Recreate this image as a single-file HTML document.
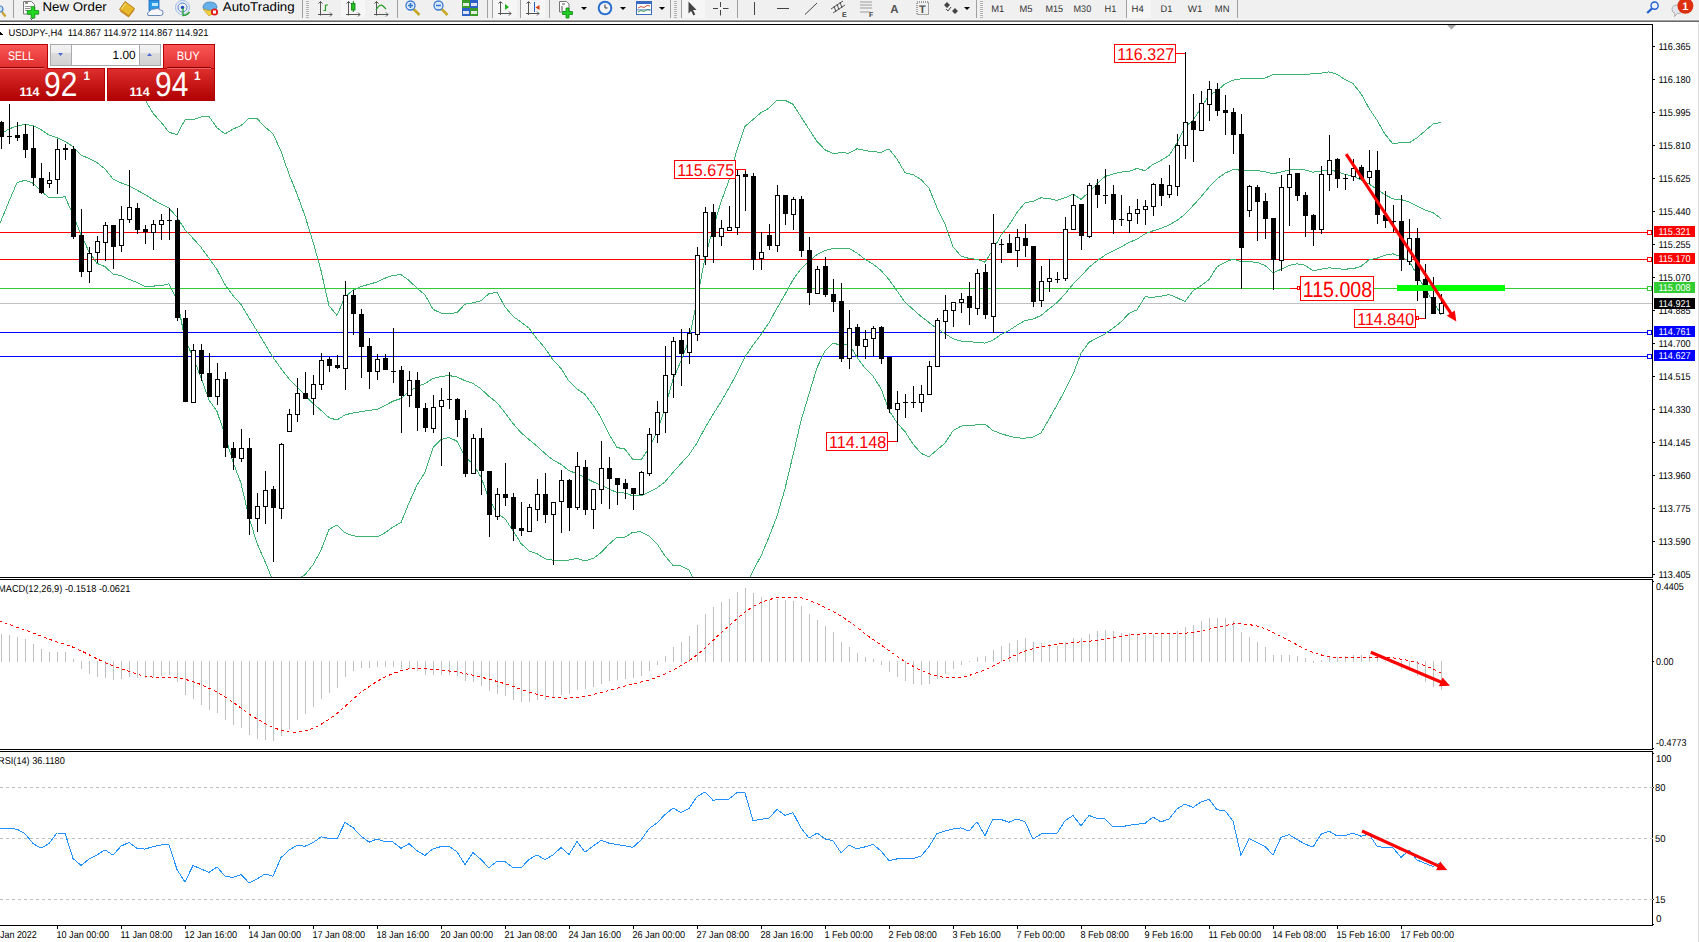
<!DOCTYPE html><html><head><meta charset="utf-8"><style>
*{margin:0;padding:0;box-sizing:border-box}body{width:1699px;height:942px;overflow:hidden;background:#fff;position:relative;font-family:"Liberation Sans",sans-serif}
text{font-family:"Liberation Sans",sans-serif;text-rendering:geometricPrecision}
</style></head><body>
<svg width="1699" height="942" style="position:absolute;left:0;top:0" shape-rendering="crispEdges">
<defs><clipPath id="cm"><rect x="0" y="25" width="1652" height="552"/></clipPath><clipPath id="cd"><rect x="0" y="580" width="1652" height="169"/></clipPath><clipPath id="cr"><rect x="0" y="752" width="1652" height="173"/></clipPath></defs>
<rect x="0" y="0" width="1699" height="19" fill="#f0f0f0"/><rect x="0" y="19" width="1699" height="1" fill="#f6f6f6"/>
<rect x="0" y="20" width="1699" height="1" fill="#a0a0a0"/><rect x="0" y="21" width="1699" height="1" fill="#696969"/>
<rect x="1698" y="22" width="1" height="920" fill="#dcdcdc"/>
<rect x="0" y="24" width="1653" height="1" fill="#000"/>
<rect x="1652" y="24" width="1" height="554" fill="#000"/>
<rect x="1652" y="579" width="1" height="171" fill="#000"/>
<rect x="1652" y="751" width="1" height="175" fill="#000"/>
<rect x="0" y="577" width="1653" height="1" fill="#000"/>
<rect x="0" y="579" width="1653" height="1" fill="#000"/>
<rect x="0" y="749" width="1653" height="1" fill="#000"/>
<rect x="0" y="751" width="1653" height="1" fill="#000"/>
<rect x="0" y="925" width="1653" height="1" fill="#000"/>
<rect x="1653" y="46" width="2" height="1" fill="#000"/>
<text x="1658.4" y="50" font-size="10" fill="#000" textLength="32.3" lengthAdjust="spacingAndGlyphs">116.365</text>
<rect x="1653" y="79" width="2" height="1" fill="#000"/>
<text x="1658.4" y="83" font-size="10" fill="#000" textLength="32.3" lengthAdjust="spacingAndGlyphs">116.180</text>
<rect x="1653" y="112" width="2" height="1" fill="#000"/>
<text x="1658.4" y="116" font-size="10" fill="#000" textLength="32.3" lengthAdjust="spacingAndGlyphs">115.995</text>
<rect x="1653" y="145" width="2" height="1" fill="#000"/>
<text x="1658.4" y="149" font-size="10" fill="#000" textLength="32.3" lengthAdjust="spacingAndGlyphs">115.810</text>
<rect x="1653" y="178" width="2" height="1" fill="#000"/>
<text x="1658.4" y="182" font-size="10" fill="#000" textLength="32.3" lengthAdjust="spacingAndGlyphs">115.625</text>
<rect x="1653" y="211" width="2" height="1" fill="#000"/>
<text x="1658.4" y="215" font-size="10" fill="#000" textLength="32.3" lengthAdjust="spacingAndGlyphs">115.440</text>
<rect x="1653" y="244" width="2" height="1" fill="#000"/>
<text x="1658.4" y="248" font-size="10" fill="#000" textLength="32.3" lengthAdjust="spacingAndGlyphs">115.255</text>
<rect x="1653" y="277" width="2" height="1" fill="#000"/>
<text x="1658.4" y="281" font-size="10" fill="#000" textLength="32.3" lengthAdjust="spacingAndGlyphs">115.070</text>
<rect x="1653" y="310" width="2" height="1" fill="#000"/>
<text x="1658.4" y="314" font-size="10" fill="#000" textLength="32.3" lengthAdjust="spacingAndGlyphs">114.885</text>
<rect x="1653" y="343" width="2" height="1" fill="#000"/>
<text x="1658.4" y="347" font-size="10" fill="#000" textLength="32.3" lengthAdjust="spacingAndGlyphs">114.700</text>
<rect x="1653" y="376" width="2" height="1" fill="#000"/>
<text x="1658.4" y="380" font-size="10" fill="#000" textLength="32.3" lengthAdjust="spacingAndGlyphs">114.515</text>
<rect x="1653" y="409" width="2" height="1" fill="#000"/>
<text x="1658.4" y="413" font-size="10" fill="#000" textLength="32.3" lengthAdjust="spacingAndGlyphs">114.330</text>
<rect x="1653" y="442" width="2" height="1" fill="#000"/>
<text x="1658.4" y="446" font-size="10" fill="#000" textLength="32.3" lengthAdjust="spacingAndGlyphs">114.145</text>
<rect x="1653" y="475" width="2" height="1" fill="#000"/>
<text x="1658.4" y="479" font-size="10" fill="#000" textLength="32.3" lengthAdjust="spacingAndGlyphs">113.960</text>
<rect x="1653" y="508" width="2" height="1" fill="#000"/>
<text x="1658.4" y="512" font-size="10" fill="#000" textLength="32.3" lengthAdjust="spacingAndGlyphs">113.775</text>
<rect x="1653" y="541" width="2" height="1" fill="#000"/>
<text x="1658.4" y="545" font-size="10" fill="#000" textLength="32.3" lengthAdjust="spacingAndGlyphs">113.590</text>
<rect x="1653" y="574" width="2" height="1" fill="#000"/>
<text x="1658.4" y="578" font-size="10" fill="#000" textLength="32.3" lengthAdjust="spacingAndGlyphs">113.405</text>
<rect x="1653" y="581" width="1" height="1" fill="#000"/><rect x="1653" y="661" width="1" height="1" fill="#000"/><rect x="1653" y="748" width="1" height="1" fill="#000"/>
<text x="1656.1" y="590" font-size="10" fill="#000" textLength="27.7" lengthAdjust="spacingAndGlyphs">0.4405</text>
<text x="1656.1" y="665" font-size="10" fill="#000" textLength="17.5" lengthAdjust="spacingAndGlyphs">0.00</text>
<text x="1656.1" y="746" font-size="10" fill="#000" textLength="30.4" lengthAdjust="spacingAndGlyphs">-0.4773</text>
<rect x="1653" y="753" width="1" height="1" fill="#000"/>
<rect x="1653" y="787" width="1" height="1" fill="#000"/>
<rect x="1653" y="899" width="1" height="1" fill="#000"/>
<rect x="1653" y="924" width="1" height="1" fill="#000"/>
<text x="1656" y="762" font-size="10" fill="#000" textLength="15.5" lengthAdjust="spacingAndGlyphs">100</text>
<text x="1655" y="791" font-size="10" fill="#000" textLength="10.5" lengthAdjust="spacingAndGlyphs">80</text>
<text x="1655" y="842" font-size="10" fill="#000" textLength="10.5" lengthAdjust="spacingAndGlyphs">50</text>
<text x="1655" y="903" font-size="10" fill="#000" textLength="10.5" lengthAdjust="spacingAndGlyphs">15</text>
<text x="1656" y="922" font-size="10" fill="#000" textLength="5.5" lengthAdjust="spacingAndGlyphs">0</text>
<rect x="57" y="926" width="1" height="3" fill="#000"/>
<text x="56.5" y="938" font-size="10" fill="#000" textLength="52.5" lengthAdjust="spacingAndGlyphs">10 Jan 00:00</text>
<rect x="121" y="926" width="1" height="3" fill="#000"/>
<text x="120.5" y="938" font-size="10" fill="#000" textLength="51.8" lengthAdjust="spacingAndGlyphs">11 Jan 08:00</text>
<rect x="185" y="926" width="1" height="3" fill="#000"/>
<text x="184.5" y="938" font-size="10" fill="#000" textLength="52.5" lengthAdjust="spacingAndGlyphs">12 Jan 16:00</text>
<rect x="249" y="926" width="1" height="3" fill="#000"/>
<text x="248.5" y="938" font-size="10" fill="#000" textLength="52.5" lengthAdjust="spacingAndGlyphs">14 Jan 00:00</text>
<rect x="313" y="926" width="1" height="3" fill="#000"/>
<text x="312.5" y="938" font-size="10" fill="#000" textLength="52.5" lengthAdjust="spacingAndGlyphs">17 Jan 08:00</text>
<rect x="377" y="926" width="1" height="3" fill="#000"/>
<text x="376.5" y="938" font-size="10" fill="#000" textLength="52.5" lengthAdjust="spacingAndGlyphs">18 Jan 16:00</text>
<rect x="441" y="926" width="1" height="3" fill="#000"/>
<text x="440.5" y="938" font-size="10" fill="#000" textLength="52.5" lengthAdjust="spacingAndGlyphs">20 Jan 00:00</text>
<rect x="505" y="926" width="1" height="3" fill="#000"/>
<text x="504.5" y="938" font-size="10" fill="#000" textLength="52.5" lengthAdjust="spacingAndGlyphs">21 Jan 08:00</text>
<rect x="569" y="926" width="1" height="3" fill="#000"/>
<text x="568.5" y="938" font-size="10" fill="#000" textLength="52.5" lengthAdjust="spacingAndGlyphs">24 Jan 16:00</text>
<rect x="633" y="926" width="1" height="3" fill="#000"/>
<text x="632.5" y="938" font-size="10" fill="#000" textLength="52.5" lengthAdjust="spacingAndGlyphs">26 Jan 00:00</text>
<rect x="697" y="926" width="1" height="3" fill="#000"/>
<text x="696.5" y="938" font-size="10" fill="#000" textLength="52.5" lengthAdjust="spacingAndGlyphs">27 Jan 08:00</text>
<rect x="761" y="926" width="1" height="3" fill="#000"/>
<text x="760.5" y="938" font-size="10" fill="#000" textLength="52.5" lengthAdjust="spacingAndGlyphs">28 Jan 16:00</text>
<rect x="825" y="926" width="1" height="3" fill="#000"/>
<text x="824.5" y="938" font-size="10" fill="#000" textLength="48.4" lengthAdjust="spacingAndGlyphs">1 Feb 00:00</text>
<rect x="889" y="926" width="1" height="3" fill="#000"/>
<text x="888.5" y="938" font-size="10" fill="#000" textLength="48.4" lengthAdjust="spacingAndGlyphs">2 Feb 08:00</text>
<rect x="953" y="926" width="1" height="3" fill="#000"/>
<text x="952.5" y="938" font-size="10" fill="#000" textLength="48.4" lengthAdjust="spacingAndGlyphs">3 Feb 16:00</text>
<rect x="1017" y="926" width="1" height="3" fill="#000"/>
<text x="1016.5" y="938" font-size="10" fill="#000" textLength="48.4" lengthAdjust="spacingAndGlyphs">7 Feb 00:00</text>
<rect x="1081" y="926" width="1" height="3" fill="#000"/>
<text x="1080.5" y="938" font-size="10" fill="#000" textLength="48.4" lengthAdjust="spacingAndGlyphs">8 Feb 08:00</text>
<rect x="1145" y="926" width="1" height="3" fill="#000"/>
<text x="1144.5" y="938" font-size="10" fill="#000" textLength="48.4" lengthAdjust="spacingAndGlyphs">9 Feb 16:00</text>
<rect x="1209" y="926" width="1" height="3" fill="#000"/>
<text x="1208.5" y="938" font-size="10" fill="#000" textLength="52.8" lengthAdjust="spacingAndGlyphs">11 Feb 00:00</text>
<rect x="1273" y="926" width="1" height="3" fill="#000"/>
<text x="1272.5" y="938" font-size="10" fill="#000" textLength="53.5" lengthAdjust="spacingAndGlyphs">14 Feb 08:00</text>
<rect x="1337" y="926" width="1" height="3" fill="#000"/>
<text x="1336.5" y="938" font-size="10" fill="#000" textLength="53.5" lengthAdjust="spacingAndGlyphs">15 Feb 16:00</text>
<rect x="1401" y="926" width="1" height="3" fill="#000"/>
<text x="1400.5" y="938" font-size="10" fill="#000" textLength="53.5" lengthAdjust="spacingAndGlyphs">17 Feb 00:00</text>
<text x="0" y="938" font-size="10" fill="#000" textLength="36.8" lengthAdjust="spacingAndGlyphs">Jan 2022</text>
<line x1="0" y1="787.5" x2="1653" y2="787.5" stroke="#c0c0c0" stroke-dasharray="3 3"/>
<line x1="0" y1="838.5" x2="1653" y2="838.5" stroke="#c0c0c0" stroke-dasharray="3 3"/>
<line x1="0" y1="899.5" x2="1653" y2="899.5" stroke="#c0c0c0" stroke-dasharray="3 3"/>
<g clip-path="url(#cd)">
<rect x="1" y="634" width="1" height="28" fill="#c0c0c0"/>
<rect x="9" y="635" width="1" height="27" fill="#c0c0c0"/>
<rect x="17" y="637" width="1" height="25" fill="#c0c0c0"/>
<rect x="25" y="639" width="1" height="23" fill="#c0c0c0"/>
<rect x="33" y="644" width="1" height="18" fill="#c0c0c0"/>
<rect x="41" y="649" width="1" height="13" fill="#c0c0c0"/>
<rect x="49" y="652" width="1" height="10" fill="#c0c0c0"/>
<rect x="57" y="652" width="1" height="10" fill="#c0c0c0"/>
<rect x="65" y="652" width="1" height="10" fill="#c0c0c0"/>
<rect x="73" y="659" width="1" height="3" fill="#c0c0c0"/>
<rect x="81" y="661" width="1" height="8" fill="#c0c0c0"/>
<rect x="89" y="661" width="1" height="13" fill="#c0c0c0"/>
<rect x="97" y="661" width="1" height="16" fill="#c0c0c0"/>
<rect x="105" y="661" width="1" height="17" fill="#c0c0c0"/>
<rect x="113" y="661" width="1" height="19" fill="#c0c0c0"/>
<rect x="121" y="661" width="1" height="18" fill="#c0c0c0"/>
<rect x="129" y="661" width="1" height="16" fill="#c0c0c0"/>
<rect x="137" y="661" width="1" height="17" fill="#c0c0c0"/>
<rect x="145" y="661" width="1" height="17" fill="#c0c0c0"/>
<rect x="153" y="661" width="1" height="16" fill="#c0c0c0"/>
<rect x="161" y="661" width="1" height="15" fill="#c0c0c0"/>
<rect x="169" y="661" width="1" height="14" fill="#c0c0c0"/>
<rect x="177" y="661" width="1" height="21" fill="#c0c0c0"/>
<rect x="185" y="661" width="1" height="34" fill="#c0c0c0"/>
<rect x="193" y="661" width="1" height="38" fill="#c0c0c0"/>
<rect x="201" y="661" width="1" height="44" fill="#c0c0c0"/>
<rect x="209" y="661" width="1" height="49" fill="#c0c0c0"/>
<rect x="217" y="661" width="1" height="52" fill="#c0c0c0"/>
<rect x="225" y="661" width="1" height="59" fill="#c0c0c0"/>
<rect x="233" y="661" width="1" height="64" fill="#c0c0c0"/>
<rect x="241" y="661" width="1" height="67" fill="#c0c0c0"/>
<rect x="249" y="661" width="1" height="74" fill="#c0c0c0"/>
<rect x="257" y="661" width="1" height="78" fill="#c0c0c0"/>
<rect x="265" y="661" width="1" height="79" fill="#c0c0c0"/>
<rect x="273" y="661" width="1" height="80" fill="#c0c0c0"/>
<rect x="281" y="661" width="1" height="75" fill="#c0c0c0"/>
<rect x="289" y="661" width="1" height="68" fill="#c0c0c0"/>
<rect x="297" y="661" width="1" height="59" fill="#c0c0c0"/>
<rect x="305" y="661" width="1" height="53" fill="#c0c0c0"/>
<rect x="313" y="661" width="1" height="46" fill="#c0c0c0"/>
<rect x="321" y="661" width="1" height="38" fill="#c0c0c0"/>
<rect x="329" y="661" width="1" height="32" fill="#c0c0c0"/>
<rect x="337" y="661" width="1" height="27" fill="#c0c0c0"/>
<rect x="345" y="661" width="1" height="16" fill="#c0c0c0"/>
<rect x="353" y="661" width="1" height="10" fill="#c0c0c0"/>
<rect x="361" y="661" width="1" height="7" fill="#c0c0c0"/>
<rect x="369" y="661" width="1" height="7" fill="#c0c0c0"/>
<rect x="377" y="661" width="1" height="6" fill="#c0c0c0"/>
<rect x="385" y="661" width="1" height="6" fill="#c0c0c0"/>
<rect x="393" y="661" width="1" height="6" fill="#c0c0c0"/>
<rect x="401" y="661" width="1" height="8" fill="#c0c0c0"/>
<rect x="409" y="661" width="1" height="8" fill="#c0c0c0"/>
<rect x="417" y="661" width="1" height="10" fill="#c0c0c0"/>
<rect x="425" y="661" width="1" height="14" fill="#c0c0c0"/>
<rect x="433" y="661" width="1" height="14" fill="#c0c0c0"/>
<rect x="441" y="661" width="1" height="14" fill="#c0c0c0"/>
<rect x="449" y="661" width="1" height="14" fill="#c0c0c0"/>
<rect x="457" y="661" width="1" height="15" fill="#c0c0c0"/>
<rect x="465" y="661" width="1" height="20" fill="#c0c0c0"/>
<rect x="473" y="661" width="1" height="21" fill="#c0c0c0"/>
<rect x="481" y="661" width="1" height="25" fill="#c0c0c0"/>
<rect x="489" y="661" width="1" height="30" fill="#c0c0c0"/>
<rect x="497" y="661" width="1" height="33" fill="#c0c0c0"/>
<rect x="505" y="661" width="1" height="35" fill="#c0c0c0"/>
<rect x="513" y="661" width="1" height="39" fill="#c0c0c0"/>
<rect x="521" y="661" width="1" height="41" fill="#c0c0c0"/>
<rect x="529" y="661" width="1" height="41" fill="#c0c0c0"/>
<rect x="537" y="661" width="1" height="39" fill="#c0c0c0"/>
<rect x="545" y="661" width="1" height="39" fill="#c0c0c0"/>
<rect x="553" y="661" width="1" height="37" fill="#c0c0c0"/>
<rect x="561" y="661" width="1" height="34" fill="#c0c0c0"/>
<rect x="569" y="661" width="1" height="33" fill="#c0c0c0"/>
<rect x="577" y="661" width="1" height="29" fill="#c0c0c0"/>
<rect x="585" y="661" width="1" height="28" fill="#c0c0c0"/>
<rect x="593" y="661" width="1" height="26" fill="#c0c0c0"/>
<rect x="601" y="661" width="1" height="23" fill="#c0c0c0"/>
<rect x="609" y="661" width="1" height="20" fill="#c0c0c0"/>
<rect x="617" y="661" width="1" height="19" fill="#c0c0c0"/>
<rect x="625" y="661" width="1" height="18" fill="#c0c0c0"/>
<rect x="633" y="661" width="1" height="17" fill="#c0c0c0"/>
<rect x="641" y="661" width="1" height="15" fill="#c0c0c0"/>
<rect x="649" y="661" width="1" height="10" fill="#c0c0c0"/>
<rect x="657" y="661" width="1" height="4" fill="#c0c0c0"/>
<rect x="665" y="656" width="1" height="6" fill="#c0c0c0"/>
<rect x="673" y="647" width="1" height="15" fill="#c0c0c0"/>
<rect x="681" y="642" width="1" height="20" fill="#c0c0c0"/>
<rect x="689" y="636" width="1" height="26" fill="#c0c0c0"/>
<rect x="697" y="625" width="1" height="37" fill="#c0c0c0"/>
<rect x="705" y="614" width="1" height="48" fill="#c0c0c0"/>
<rect x="713" y="607" width="1" height="55" fill="#c0c0c0"/>
<rect x="721" y="602" width="1" height="60" fill="#c0c0c0"/>
<rect x="729" y="599" width="1" height="63" fill="#c0c0c0"/>
<rect x="737" y="592" width="1" height="70" fill="#c0c0c0"/>
<rect x="745" y="588" width="1" height="74" fill="#c0c0c0"/>
<rect x="753" y="593" width="1" height="69" fill="#c0c0c0"/>
<rect x="761" y="597" width="1" height="65" fill="#c0c0c0"/>
<rect x="769" y="600" width="1" height="62" fill="#c0c0c0"/>
<rect x="777" y="599" width="1" height="63" fill="#c0c0c0"/>
<rect x="785" y="600" width="1" height="62" fill="#c0c0c0"/>
<rect x="793" y="601" width="1" height="61" fill="#c0c0c0"/>
<rect x="801" y="606" width="1" height="56" fill="#c0c0c0"/>
<rect x="809" y="614" width="1" height="48" fill="#c0c0c0"/>
<rect x="817" y="620" width="1" height="42" fill="#c0c0c0"/>
<rect x="825" y="626" width="1" height="36" fill="#c0c0c0"/>
<rect x="833" y="632" width="1" height="30" fill="#c0c0c0"/>
<rect x="841" y="642" width="1" height="20" fill="#c0c0c0"/>
<rect x="849" y="647" width="1" height="15" fill="#c0c0c0"/>
<rect x="857" y="653" width="1" height="9" fill="#c0c0c0"/>
<rect x="865" y="657" width="1" height="5" fill="#c0c0c0"/>
<rect x="873" y="659" width="1" height="3" fill="#c0c0c0"/>
<rect x="881" y="661" width="1" height="4" fill="#c0c0c0"/>
<rect x="889" y="661" width="1" height="11" fill="#c0c0c0"/>
<rect x="897" y="661" width="1" height="16" fill="#c0c0c0"/>
<rect x="905" y="661" width="1" height="20" fill="#c0c0c0"/>
<rect x="913" y="661" width="1" height="23" fill="#c0c0c0"/>
<rect x="921" y="661" width="1" height="24" fill="#c0c0c0"/>
<rect x="929" y="661" width="1" height="23" fill="#c0c0c0"/>
<rect x="937" y="661" width="1" height="18" fill="#c0c0c0"/>
<rect x="945" y="661" width="1" height="13" fill="#c0c0c0"/>
<rect x="953" y="661" width="1" height="8" fill="#c0c0c0"/>
<rect x="961" y="661" width="1" height="4" fill="#c0c0c0"/>
<rect x="969" y="661" width="1" height="1" fill="#c0c0c0"/>
<rect x="977" y="657" width="1" height="5" fill="#c0c0c0"/>
<rect x="985" y="656" width="1" height="6" fill="#c0c0c0"/>
<rect x="993" y="650" width="1" height="12" fill="#c0c0c0"/>
<rect x="1001" y="646" width="1" height="16" fill="#c0c0c0"/>
<rect x="1009" y="643" width="1" height="19" fill="#c0c0c0"/>
<rect x="1017" y="640" width="1" height="22" fill="#c0c0c0"/>
<rect x="1025" y="638" width="1" height="24" fill="#c0c0c0"/>
<rect x="1033" y="642" width="1" height="20" fill="#c0c0c0"/>
<rect x="1041" y="643" width="1" height="19" fill="#c0c0c0"/>
<rect x="1049" y="644" width="1" height="18" fill="#c0c0c0"/>
<rect x="1057" y="646" width="1" height="16" fill="#c0c0c0"/>
<rect x="1065" y="642" width="1" height="20" fill="#c0c0c0"/>
<rect x="1073" y="638" width="1" height="24" fill="#c0c0c0"/>
<rect x="1081" y="638" width="1" height="24" fill="#c0c0c0"/>
<rect x="1089" y="634" width="1" height="28" fill="#c0c0c0"/>
<rect x="1097" y="631" width="1" height="31" fill="#c0c0c0"/>
<rect x="1105" y="630" width="1" height="32" fill="#c0c0c0"/>
<rect x="1113" y="631" width="1" height="31" fill="#c0c0c0"/>
<rect x="1121" y="633" width="1" height="29" fill="#c0c0c0"/>
<rect x="1129" y="633" width="1" height="29" fill="#c0c0c0"/>
<rect x="1137" y="634" width="1" height="28" fill="#c0c0c0"/>
<rect x="1145" y="635" width="1" height="27" fill="#c0c0c0"/>
<rect x="1153" y="634" width="1" height="28" fill="#c0c0c0"/>
<rect x="1161" y="634" width="1" height="28" fill="#c0c0c0"/>
<rect x="1169" y="634" width="1" height="28" fill="#c0c0c0"/>
<rect x="1177" y="631" width="1" height="31" fill="#c0c0c0"/>
<rect x="1185" y="627" width="1" height="35" fill="#c0c0c0"/>
<rect x="1193" y="625" width="1" height="37" fill="#c0c0c0"/>
<rect x="1201" y="621" width="1" height="41" fill="#c0c0c0"/>
<rect x="1209" y="618" width="1" height="44" fill="#c0c0c0"/>
<rect x="1217" y="618" width="1" height="44" fill="#c0c0c0"/>
<rect x="1225" y="618" width="1" height="44" fill="#c0c0c0"/>
<rect x="1233" y="621" width="1" height="41" fill="#c0c0c0"/>
<rect x="1241" y="632" width="1" height="30" fill="#c0c0c0"/>
<rect x="1249" y="637" width="1" height="25" fill="#c0c0c0"/>
<rect x="1257" y="642" width="1" height="20" fill="#c0c0c0"/>
<rect x="1265" y="647" width="1" height="15" fill="#c0c0c0"/>
<rect x="1273" y="655" width="1" height="7" fill="#c0c0c0"/>
<rect x="1281" y="655" width="1" height="7" fill="#c0c0c0"/>
<rect x="1289" y="655" width="1" height="7" fill="#c0c0c0"/>
<rect x="1297" y="656" width="1" height="6" fill="#c0c0c0"/>
<rect x="1305" y="658" width="1" height="4" fill="#c0c0c0"/>
<rect x="1313" y="661" width="1" height="2" fill="#c0c0c0"/>
<rect x="1321" y="660" width="1" height="2" fill="#c0c0c0"/>
<rect x="1329" y="657" width="1" height="5" fill="#c0c0c0"/>
<rect x="1337" y="657" width="1" height="5" fill="#c0c0c0"/>
<rect x="1345" y="656" width="1" height="6" fill="#c0c0c0"/>
<rect x="1353" y="655" width="1" height="7" fill="#c0c0c0"/>
<rect x="1361" y="655" width="1" height="7" fill="#c0c0c0"/>
<rect x="1369" y="655" width="1" height="7" fill="#c0c0c0"/>
<rect x="1377" y="658" width="1" height="4" fill="#c0c0c0"/>
<rect x="1385" y="661" width="1" height="1" fill="#c0c0c0"/>
<rect x="1393" y="661" width="1" height="3" fill="#c0c0c0"/>
<rect x="1401" y="661" width="1" height="8" fill="#c0c0c0"/>
<rect x="1409" y="661" width="1" height="10" fill="#c0c0c0"/>
<rect x="1417" y="661" width="1" height="15" fill="#c0c0c0"/>
<rect x="1425" y="661" width="1" height="21" fill="#c0c0c0"/>
<rect x="1433" y="661" width="1" height="26" fill="#c0c0c0"/>
<rect x="1441" y="661" width="1" height="29" fill="#c0c0c0"/>
<polyline points="-7,619.3 1,621.5 9,624.4 17,627.3 25,630.0 33,632.9 41,636.0 49,639.1 57,641.9 65,644.3 73,647.2 81,650.8 89,654.8 97,658.8 105,662.5 113,665.8 121,668.7 129,671.4 137,674.2 145,676.1 153,677.1 161,677.3 169,677.2 177,677.7 185,679.3 193,681.6 201,684.6 209,688.2 217,692.1 225,696.8 233,702.2 241,708.1 249,714.0 257,718.9 265,723.4 273,727.4 281,730.3 289,732.0 297,732.1 305,730.8 313,728.5 321,724.4 329,719.2 337,713.4 345,706.3 353,699.1 361,692.4 369,686.6 377,681.4 385,677.0 393,673.5 401,670.8 409,668.8 417,668.1 425,668.5 433,669.3 441,670.1 449,671.0 457,672.0 465,673.7 473,675.2 481,677.0 489,679.3 497,681.4 505,683.7 513,686.4 521,689.4 529,692.2 537,694.3 545,696.2 553,697.6 561,698.0 569,698.0 577,697.3 585,696.2 593,694.5 601,692.5 609,690.4 617,688.2 625,686.0 633,684.1 641,682.1 649,680.0 657,677.2 665,673.9 673,669.9 681,665.6 689,660.8 697,655.0 705,647.9 713,640.4 721,632.9 729,625.7 737,618.7 745,612.1 753,606.7 761,602.4 769,599.5 777,597.9 785,597.1 793,597.0 801,597.8 809,600.3 817,603.7 825,607.4 833,611.3 841,616.0 849,621.4 857,627.3 865,633.6 873,639.5 881,645.0 889,650.7 897,656.3 905,661.7 913,666.3 921,670.4 929,673.7 937,676.0 945,677.5 953,678.0 961,677.2 969,675.5 977,672.8 985,669.9 993,666.1 1001,661.9 1009,658.1 1017,654.4 1025,651.1 1033,648.7 1041,646.7 1049,645.3 1057,644.1 1065,643.3 1073,642.4 1081,641.9 1089,641.2 1097,640.4 1105,639.1 1113,637.7 1121,636.4 1129,635.1 1137,634.2 1145,633.8 1153,633.3 1161,633.3 1169,633.6 1177,633.7 1185,633.2 1193,632.3 1201,631.0 1209,629.2 1217,627.2 1225,625.5 1233,624.0 1241,623.8 1249,624.5 1257,626.1 1265,628.6 1273,632.4 1281,636.5 1289,640.6 1297,644.8 1305,649.0 1313,652.3 1321,654.9 1329,656.6 1337,657.6 1345,657.8 1353,657.7 1361,657.8 1369,657.6 1377,657.6 1385,657.5 1393,657.8 1401,659.1 1409,660.6 1417,662.8 1425,665.6 1433,669.0 1441,672.8" fill="none" stroke="#f00" stroke-width="1" stroke-dasharray="3 3"/>
</g>
<g clip-path="url(#cr)">
<polyline points="-7,828.8 1,828.8 9,828.7 17,829.1 25,833.8 33,843.5 41,848.2 49,843.6 57,833.0 65,833.2 73,858.5 81,865.4 89,859.2 97,855.1 105,849.8 113,855.1 121,846.2 129,842.4 137,848.5 145,849.1 153,846.6 161,845.0 169,844.9 177,869.6 185,882.0 193,865.4 201,869.0 209,872.3 217,866.9 225,876.3 233,877.5 241,874.5 249,882.8 257,879.0 265,873.9 273,876.2 281,857.6 289,850.2 297,845.2 305,846.2 313,842.7 321,836.9 329,838.3 337,838.9 345,822.3 353,827.6 361,836.1 369,842.2 377,839.0 385,841.6 393,842.0 401,848.3 409,843.7 417,850.7 425,855.4 433,848.8 441,846.6 449,846.3 457,851.9 465,864.6 473,852.6 481,859.6 489,867.8 497,861.1 505,861.7 513,867.6 521,868.0 529,859.4 537,854.9 545,859.6 553,855.0 561,847.5 569,854.6 577,841.5 585,852.1 593,846.2 601,840.4 609,843.2 617,844.6 625,845.8 633,847.3 641,839.9 649,828.7 657,822.9 665,814.6 673,808.1 681,812.5 689,808.6 697,796.7 705,791.8 713,800.3 721,799.3 729,799.1 737,792.5 745,793.0 753,820.6 761,819.3 769,818.0 777,809.5 785,815.4 793,812.8 801,827.9 809,838.1 817,833.0 825,838.9 833,840.7 841,852.7 849,845.2 857,848.7 865,846.9 873,844.2 881,851.0 889,860.7 897,858.9 905,858.7 913,858.7 921,856.1 929,846.6 937,833.5 945,831.0 953,828.9 961,827.9 969,831.1 977,821.8 985,835.6 993,819.0 1001,819.5 1009,822.2 1017,818.9 1025,821.8 1033,839.2 1041,834.0 1049,833.3 1057,833.4 1065,820.7 1073,815.5 1081,825.8 1089,815.4 1097,818.5 1105,818.7 1113,826.9 1121,826.9 1129,825.3 1137,824.2 1145,823.3 1153,817.0 1161,821.9 1169,819.1 1177,808.9 1185,804.0 1193,807.5 1201,802.0 1209,799.3 1217,809.7 1225,810.7 1233,821.0 1241,855.4 1249,838.7 1257,842.5 1265,846.4 1273,855.0 1281,837.4 1289,834.6 1297,839.6 1305,844.0 1313,847.1 1321,834.2 1329,831.1 1337,835.9 1345,835.6 1353,833.2 1361,836.2 1369,834.1 1377,846.2 1385,847.7 1393,847.7 1401,857.4 1409,850.3 1417,859.9 1425,863.3 1433,866.5 1441,862.7" fill="none" stroke="#1e90ff" stroke-width="1"/>
</g>
<g clip-path="url(#cm)">
<rect x="0" y="303" width="1653" height="1" fill="#c0c0c0"/>
<rect x="0" y="232" width="1652" height="1" fill="#f00"/>
<rect x="1647.5" y="230.5" width="4" height="4" fill="#fff" stroke="#f00" stroke-width="1"/>
<rect x="0" y="259" width="1652" height="1" fill="#f00"/>
<rect x="1647.5" y="257.5" width="4" height="4" fill="#fff" stroke="#f00" stroke-width="1"/>
<rect x="0" y="288" width="1652" height="1" fill="#32cd32"/>
<rect x="1647.5" y="286.5" width="4" height="4" fill="#fff" stroke="#32cd32" stroke-width="1"/>
<rect x="0" y="332" width="1652" height="1" fill="#00f"/>
<rect x="1647.5" y="330.5" width="4" height="4" fill="#fff" stroke="#00f" stroke-width="1"/>
<rect x="0" y="356" width="1652" height="1" fill="#00f"/>
<rect x="1647.5" y="354.5" width="4" height="4" fill="#fff" stroke="#00f" stroke-width="1"/>
<polyline points="1,46.8 9,56.6 17,69.0 25,68.6 33,67.8 41,68.2 49,72.4 57,77.6 65,86.2 73,78.8 81,75.7 89,65.1 97,61.8 105,71.4 113,83.8 121,89.9 129,92.5 137,95.0 145,99.6 153,113.3 161,122.1 169,132.3 177,134.6 185,119.9 193,119.6 201,116.9 209,116.4 217,127.8 225,134.0 233,129.1 241,125.7 249,118.0 257,118.6 265,126.9 273,133.7 281,151.3 289,174.1 297,194.0 305,216.0 313,241.8 321,270.5 329,305.9 337,315.4 345,296.9 353,290.2 361,286.6 369,284.3 377,282.0 385,278.2 393,275.4 401,274.6 409,280.4 417,288.2 425,294.9 433,309.3 441,313.1 449,313.8 457,312.6 465,304.2 473,302.9 481,300.8 489,293.5 497,292.4 505,306.8 513,316.3 521,322.1 529,328.0 537,338.7 545,348.2 553,359.9 561,368.4 569,381.3 577,388.9 585,394.4 593,405.0 601,417.6 609,434.0 617,447.5 625,449.1 633,459.7 641,460.0 649,448.1 657,431.9 665,407.6 673,379.4 681,361.0 689,339.8 697,300.3 705,257.4 713,228.6 721,201.9 729,180.3 737,149.6 745,126.4 753,119.6 761,112.7 769,108.2 777,100.3 785,100.2 793,104.3 801,116.8 809,129.3 817,141.4 825,149.8 833,153.6 841,152.6 849,153.2 857,148.8 865,150.5 873,151.7 881,152.3 889,148.9 897,159.0 905,172.8 913,174.6 921,179.5 929,188.1 937,207.7 945,224.1 953,246.7 961,256.2 969,258.4 977,259.3 985,262.2 993,249.7 1001,235.3 1009,225.2 1017,212.5 1025,202.9 1033,201.3 1041,197.8 1049,198.5 1057,200.4 1065,197.8 1073,194.0 1081,199.3 1089,192.2 1097,183.7 1105,176.5 1113,174.0 1121,172.1 1129,171.5 1137,168.4 1145,170.7 1153,164.4 1161,160.4 1169,155.5 1177,143.1 1185,126.9 1193,120.5 1201,107.9 1209,95.1 1217,91.0 1225,83.8 1233,80.1 1241,78.8 1249,78.8 1257,78.7 1265,78.1 1273,74.5 1281,74.9 1289,74.7 1297,75.0 1305,74.7 1313,73.6 1321,73.1 1329,71.9 1337,74.2 1345,79.6 1353,83.6 1361,93.7 1369,108.2 1377,120.3 1385,134.1 1393,144.1 1401,142.4 1409,143.0 1417,137.8 1425,131.0 1433,124.1 1441,122.4" fill="none" stroke="#3cb371" stroke-width="1"/>
<polyline points="-7,136 1,133.8 9,129.0 17,125.9 25,124.4 33,125.5 41,129.7 49,135.0 57,137.8 65,141.4 73,146.7 81,155.2 89,158.4 97,162.6 105,169.0 113,178.9 121,182.8 129,185.9 137,190.2 145,194.4 153,199.7 161,203.9 169,208.1 177,217.1 185,229.7 193,238.3 201,247.3 209,258.1 217,269.6 225,284.6 233,295.6 241,304.5 249,317.7 257,331.0 265,344.2 273,357.3 281,368.5 289,378.9 297,387.0 305,395.4 313,403.4 321,410.3 329,417.6 337,420.1 345,414.8 353,413.0 361,411.7 369,410.4 377,409.4 385,405.5 393,401.2 401,398.5 409,391.6 417,386.7 425,383.6 433,378.5 441,376.4 449,375.6 457,376.9 465,380.7 473,383.4 481,388.9 489,396.3 497,402.7 505,412.8 513,423.5 521,432.7 529,439.5 537,446.2 545,453.5 553,460.0 561,464.3 569,470.7 577,473.6 585,477.7 593,481.8 601,485.2 609,489.1 617,492.4 625,493.1 633,495.9 641,496.0 649,492.0 657,487.9 665,481.8 673,472.4 681,463.5 689,454.8 697,442.9 705,427.8 713,414.5 721,401.9 729,387.9 737,373.3 745,356.7 753,345.2 761,334.4 769,322.7 777,308.2 785,294.5 793,279.8 801,268.7 809,261.6 817,254.5 825,250.4 833,248.5 841,248.8 849,248.5 857,253.0 865,259.4 873,264.0 881,270.5 889,279.5 897,290.9 905,302.2 913,309.3 921,316.4 929,322.5 937,328.8 945,333.6 953,338.8 961,341.1 969,341.9 977,342.1 985,343.1 993,340.2 1001,334.4 1009,330.6 1017,325.2 1025,320.6 1033,319.2 1041,315.4 1049,308.9 1057,302.7 1065,294.0 1073,284.2 1081,276.3 1089,267.2 1097,260.9 1105,255.2 1113,251.0 1121,247.1 1129,242.4 1137,239.2 1145,233.8 1153,230.8 1161,228.4 1169,225.0 1177,220.4 1185,214.3 1193,205.7 1201,196.8 1209,187.3 1217,178.9 1225,173.1 1233,169.6 1241,170.2 1249,170.2 1257,170.5 1265,171.7 1273,173.7 1281,172.1 1289,170.1 1297,169.4 1305,169.9 1313,172.2 1321,171.1 1329,169.9 1337,171.5 1345,174.3 1353,176.2 1361,180.0 1369,184.0 1377,189.2 1385,194.6 1393,198.9 1401,199.5 1409,202.1 1417,206.1 1425,210.0 1433,212.7 1441,218.5" fill="none" stroke="#3cb371" stroke-width="1"/>
<polyline points="-7,236 1,220.8 9,201.4 17,182.8 25,180.2 33,183.2 41,191.2 49,197.6 57,198.0 65,196.6 73,214.6 81,234.7 89,251.7 97,263.4 105,266.6 113,274.0 121,275.7 129,279.3 137,282.5 145,286.3 153,286.1 161,285.6 169,283.8 177,299.5 185,339.5 193,357.0 201,377.7 209,399.9 217,411.5 225,435.1 233,462.1 241,483.2 249,517.4 257,543.3 265,561.5 273,580.8 281,585.7 289,583.7 297,580.1 305,574.7 313,564.9 321,550.2 329,529.4 337,524.8 345,532.7 353,535.8 361,536.8 369,536.6 377,536.9 385,532.8 393,527.0 401,522.5 409,502.9 417,485.2 425,472.2 433,447.7 441,439.6 449,437.4 457,441.2 465,457.1 473,463.8 481,477.0 489,499.2 497,513.0 505,518.8 513,530.7 521,543.4 529,551.0 537,553.7 545,558.8 553,560.2 561,560.2 569,560.1 577,558.2 585,560.9 593,558.5 601,552.7 609,544.2 617,537.3 625,537.2 633,532.1 641,531.9 649,535.8 657,543.8 665,555.9 673,565.4 681,566.0 689,569.9 697,585.4 705,598.2 713,600.4 721,601.9 729,595.4 737,597.1 745,586.9 753,570.7 761,556.0 769,537.1 777,516.1 785,488.8 793,455.3 801,420.7 809,394.0 817,367.6 825,351.1 833,343.3 841,344.9 849,343.8 857,357.3 865,368.2 873,376.2 881,388.6 889,410.2 897,422.9 905,431.6 913,444.0 921,453.3 929,456.9 937,449.9 945,443.1 953,430.8 961,426.1 969,425.4 977,424.9 985,424.0 993,430.6 1001,433.6 1009,436.1 1017,437.9 1025,438.2 1033,437.1 1041,432.9 1049,419.2 1057,404.9 1065,390.3 1073,374.4 1081,353.2 1089,342.3 1097,338.1 1105,333.9 1113,328.1 1121,322.0 1129,313.3 1137,309.9 1145,296.8 1153,297.3 1161,296.3 1169,294.5 1177,297.8 1185,301.6 1193,290.9 1201,285.6 1209,279.6 1217,266.8 1225,262.4 1233,259.0 1241,261.6 1249,261.6 1257,262.4 1265,265.4 1273,272.9 1281,269.3 1289,265.5 1297,263.8 1305,265.1 1313,270.8 1321,269.2 1329,267.8 1337,268.9 1345,269.1 1353,268.8 1361,266.3 1369,259.9 1377,258.2 1385,255.2 1393,253.8 1401,256.6 1409,261.3 1417,274.4 1425,289.0 1433,301.3 1441,314.6" fill="none" stroke="#3cb371" stroke-width="1"/>
<rect x="1" y="121" width="1" height="28" fill="#000"/>
<rect x="-1" y="122" width="5" height="15" fill="#000"/>
<rect x="9" y="104" width="1" height="40" fill="#000"/>
<rect x="7" y="136" width="5" height="1" fill="#000"/>
<rect x="17" y="122" width="1" height="19" fill="#000"/>
<rect x="15" y="135" width="5" height="3" fill="#000"/>
<rect x="25" y="124" width="1" height="34" fill="#000"/>
<rect x="23" y="134" width="5" height="16" fill="#000"/>
<rect x="33" y="126" width="1" height="60" fill="#000"/>
<rect x="31" y="148" width="5" height="30" fill="#000"/>
<rect x="41" y="163" width="1" height="31" fill="#000"/>
<rect x="39" y="178" width="5" height="15" fill="#000"/>
<rect x="49" y="172" width="1" height="16" fill="#000"/>
<rect x="47.5" y="180.5" width="4" height="3" fill="#fff" stroke="#000"/>
<rect x="57" y="139" width="1" height="55" fill="#000"/>
<rect x="55.5" y="149.5" width="4" height="30" fill="#fff" stroke="#000"/>
<rect x="65" y="144" width="1" height="16" fill="#000"/>
<rect x="63" y="148" width="5" height="2" fill="#000"/>
<rect x="73" y="146" width="1" height="93" fill="#000"/>
<rect x="71" y="149" width="5" height="88" fill="#000"/>
<rect x="81" y="209" width="1" height="68" fill="#000"/>
<rect x="79" y="235" width="5" height="37" fill="#000"/>
<rect x="89" y="247" width="1" height="36" fill="#000"/>
<rect x="87.5" y="253.5" width="4" height="18" fill="#fff" stroke="#000"/>
<rect x="97" y="236" width="1" height="27" fill="#000"/>
<rect x="95.5" y="241.5" width="4" height="11" fill="#fff" stroke="#000"/>
<rect x="105" y="222" width="1" height="39" fill="#000"/>
<rect x="103.5" y="225.5" width="4" height="17" fill="#fff" stroke="#000"/>
<rect x="113" y="225" width="1" height="44" fill="#000"/>
<rect x="111" y="225" width="5" height="22" fill="#000"/>
<rect x="121" y="206" width="1" height="46" fill="#000"/>
<rect x="119.5" y="219.5" width="4" height="26" fill="#fff" stroke="#000"/>
<rect x="129" y="170" width="1" height="53" fill="#000"/>
<rect x="127.5" y="207.5" width="4" height="12" fill="#fff" stroke="#000"/>
<rect x="137" y="203" width="1" height="31" fill="#000"/>
<rect x="135" y="208" width="5" height="22" fill="#000"/>
<rect x="145" y="225" width="1" height="19" fill="#000"/>
<rect x="143" y="229" width="5" height="3" fill="#000"/>
<rect x="153" y="220" width="1" height="30" fill="#000"/>
<rect x="151.5" y="224.5" width="4" height="8" fill="#fff" stroke="#000"/>
<rect x="161" y="214" width="1" height="26" fill="#000"/>
<rect x="159.5" y="220.5" width="4" height="4" fill="#fff" stroke="#000"/>
<rect x="169" y="208" width="1" height="32" fill="#000"/>
<rect x="167" y="220" width="5" height="1" fill="#000"/>
<rect x="177" y="208" width="1" height="113" fill="#000"/>
<rect x="175" y="220" width="5" height="98" fill="#000"/>
<rect x="185" y="310" width="1" height="92" fill="#000"/>
<rect x="183" y="318" width="5" height="84" fill="#000"/>
<rect x="193" y="344" width="1" height="59" fill="#000"/>
<rect x="191.5" y="350.5" width="4" height="52" fill="#fff" stroke="#000"/>
<rect x="201" y="344" width="1" height="37" fill="#000"/>
<rect x="199" y="350" width="5" height="24" fill="#000"/>
<rect x="209" y="353" width="1" height="44" fill="#000"/>
<rect x="207" y="373" width="5" height="24" fill="#000"/>
<rect x="217" y="363" width="1" height="42" fill="#000"/>
<rect x="215.5" y="379.5" width="4" height="17" fill="#fff" stroke="#000"/>
<rect x="225" y="372" width="1" height="85" fill="#000"/>
<rect x="223" y="379" width="5" height="69" fill="#000"/>
<rect x="233" y="442" width="1" height="28" fill="#000"/>
<rect x="231" y="448" width="5" height="10" fill="#000"/>
<rect x="241" y="429" width="1" height="33" fill="#000"/>
<rect x="239.5" y="448.5" width="4" height="10" fill="#fff" stroke="#000"/>
<rect x="249" y="438" width="1" height="97" fill="#000"/>
<rect x="247" y="448" width="5" height="71" fill="#000"/>
<rect x="257" y="493" width="1" height="39" fill="#000"/>
<rect x="255.5" y="506.5" width="4" height="12" fill="#fff" stroke="#000"/>
<rect x="265" y="471" width="1" height="53" fill="#000"/>
<rect x="263.5" y="490.5" width="4" height="16" fill="#fff" stroke="#000"/>
<rect x="273" y="486" width="1" height="76" fill="#000"/>
<rect x="271" y="489" width="5" height="19" fill="#000"/>
<rect x="281" y="443" width="1" height="76" fill="#000"/>
<rect x="279.5" y="444.5" width="4" height="64" fill="#fff" stroke="#000"/>
<rect x="289" y="409" width="1" height="23" fill="#000"/>
<rect x="287.5" y="414.5" width="4" height="17" fill="#fff" stroke="#000"/>
<rect x="297" y="378" width="1" height="44" fill="#000"/>
<rect x="295.5" y="393.5" width="4" height="21" fill="#fff" stroke="#000"/>
<rect x="305" y="372" width="1" height="27" fill="#000"/>
<rect x="303" y="393" width="5" height="6" fill="#000"/>
<rect x="313" y="375" width="1" height="40" fill="#000"/>
<rect x="311.5" y="384.5" width="4" height="14" fill="#fff" stroke="#000"/>
<rect x="321" y="353" width="1" height="37" fill="#000"/>
<rect x="319.5" y="360.5" width="4" height="24" fill="#fff" stroke="#000"/>
<rect x="329" y="357" width="1" height="15" fill="#000"/>
<rect x="327" y="359" width="5" height="7" fill="#000"/>
<rect x="337" y="355" width="1" height="14" fill="#000"/>
<rect x="335" y="365" width="5" height="3" fill="#000"/>
<rect x="345" y="281" width="1" height="109" fill="#000"/>
<rect x="343.5" y="295.5" width="4" height="73" fill="#fff" stroke="#000"/>
<rect x="353" y="290" width="1" height="45" fill="#000"/>
<rect x="351" y="295" width="5" height="19" fill="#000"/>
<rect x="361" y="309" width="1" height="69" fill="#000"/>
<rect x="359" y="314" width="5" height="33" fill="#000"/>
<rect x="369" y="338" width="1" height="51" fill="#000"/>
<rect x="367" y="346" width="5" height="26" fill="#000"/>
<rect x="377" y="354" width="1" height="26" fill="#000"/>
<rect x="375.5" y="359.5" width="4" height="12" fill="#fff" stroke="#000"/>
<rect x="385" y="354" width="1" height="16" fill="#000"/>
<rect x="383" y="358" width="5" height="12" fill="#000"/>
<rect x="393" y="328" width="1" height="55" fill="#000"/>
<rect x="391" y="371" width="5" height="1" fill="#000"/>
<rect x="401" y="366" width="1" height="67" fill="#000"/>
<rect x="399" y="370" width="5" height="26" fill="#000"/>
<rect x="409" y="371" width="1" height="36" fill="#000"/>
<rect x="407.5" y="380.5" width="4" height="15" fill="#fff" stroke="#000"/>
<rect x="417" y="372" width="1" height="59" fill="#000"/>
<rect x="415" y="380" width="5" height="28" fill="#000"/>
<rect x="425" y="403" width="1" height="29" fill="#000"/>
<rect x="423" y="408" width="5" height="20" fill="#000"/>
<rect x="433" y="395" width="1" height="38" fill="#000"/>
<rect x="431.5" y="407.5" width="4" height="21" fill="#fff" stroke="#000"/>
<rect x="441" y="388" width="1" height="78" fill="#000"/>
<rect x="439.5" y="400.5" width="4" height="6" fill="#fff" stroke="#000"/>
<rect x="449" y="372" width="1" height="37" fill="#000"/>
<rect x="447" y="399" width="5" height="1" fill="#000"/>
<rect x="457" y="398" width="1" height="39" fill="#000"/>
<rect x="455" y="399" width="5" height="21" fill="#000"/>
<rect x="465" y="410" width="1" height="67" fill="#000"/>
<rect x="463" y="418" width="5" height="56" fill="#000"/>
<rect x="473" y="434" width="1" height="40" fill="#000"/>
<rect x="471.5" y="438.5" width="4" height="35" fill="#fff" stroke="#000"/>
<rect x="481" y="428" width="1" height="67" fill="#000"/>
<rect x="479" y="438" width="5" height="33" fill="#000"/>
<rect x="489" y="471" width="1" height="66" fill="#000"/>
<rect x="487" y="471" width="5" height="44" fill="#000"/>
<rect x="497" y="488" width="1" height="32" fill="#000"/>
<rect x="495.5" y="494.5" width="4" height="22" fill="#fff" stroke="#000"/>
<rect x="505" y="463" width="1" height="43" fill="#000"/>
<rect x="503" y="494" width="5" height="4" fill="#000"/>
<rect x="513" y="493" width="1" height="48" fill="#000"/>
<rect x="511" y="497" width="5" height="32" fill="#000"/>
<rect x="521" y="502" width="1" height="34" fill="#000"/>
<rect x="519" y="528" width="5" height="3" fill="#000"/>
<rect x="529" y="504" width="1" height="28" fill="#000"/>
<rect x="527.5" y="507.5" width="4" height="24" fill="#fff" stroke="#000"/>
<rect x="537" y="479" width="1" height="42" fill="#000"/>
<rect x="535.5" y="494.5" width="4" height="15" fill="#fff" stroke="#000"/>
<rect x="545" y="473" width="1" height="50" fill="#000"/>
<rect x="543" y="494" width="5" height="21" fill="#000"/>
<rect x="553" y="502" width="1" height="63" fill="#000"/>
<rect x="551.5" y="502.5" width="4" height="12" fill="#fff" stroke="#000"/>
<rect x="561" y="470" width="1" height="63" fill="#000"/>
<rect x="559.5" y="480.5" width="4" height="21" fill="#fff" stroke="#000"/>
<rect x="569" y="479" width="1" height="52" fill="#000"/>
<rect x="567" y="480" width="5" height="28" fill="#000"/>
<rect x="577" y="452" width="1" height="58" fill="#000"/>
<rect x="575.5" y="466.5" width="4" height="41" fill="#fff" stroke="#000"/>
<rect x="585" y="460" width="1" height="55" fill="#000"/>
<rect x="583" y="467" width="5" height="43" fill="#000"/>
<rect x="593" y="489" width="1" height="40" fill="#000"/>
<rect x="591.5" y="489.5" width="4" height="20" fill="#fff" stroke="#000"/>
<rect x="601" y="441" width="1" height="63" fill="#000"/>
<rect x="599.5" y="468.5" width="4" height="21" fill="#fff" stroke="#000"/>
<rect x="609" y="457" width="1" height="52" fill="#000"/>
<rect x="607" y="468" width="5" height="11" fill="#000"/>
<rect x="617" y="478" width="1" height="27" fill="#000"/>
<rect x="615" y="478" width="5" height="7" fill="#000"/>
<rect x="625" y="479" width="1" height="20" fill="#000"/>
<rect x="623" y="483" width="5" height="6" fill="#000"/>
<rect x="633" y="488" width="1" height="22" fill="#000"/>
<rect x="631" y="488" width="5" height="6" fill="#000"/>
<rect x="641" y="471" width="1" height="24" fill="#000"/>
<rect x="639.5" y="472.5" width="4" height="22" fill="#fff" stroke="#000"/>
<rect x="649" y="428" width="1" height="48" fill="#000"/>
<rect x="647.5" y="434.5" width="4" height="39" fill="#fff" stroke="#000"/>
<rect x="657" y="401" width="1" height="42" fill="#000"/>
<rect x="655.5" y="412.5" width="4" height="22" fill="#fff" stroke="#000"/>
<rect x="665" y="346" width="1" height="87" fill="#000"/>
<rect x="663.5" y="375.5" width="4" height="37" fill="#fff" stroke="#000"/>
<rect x="673" y="337" width="1" height="61" fill="#000"/>
<rect x="671.5" y="341.5" width="4" height="33" fill="#fff" stroke="#000"/>
<rect x="681" y="329" width="1" height="57" fill="#000"/>
<rect x="679" y="340" width="5" height="14" fill="#000"/>
<rect x="689" y="328" width="1" height="36" fill="#000"/>
<rect x="687.5" y="333.5" width="4" height="19" fill="#fff" stroke="#000"/>
<rect x="697" y="247" width="1" height="94" fill="#000"/>
<rect x="695.5" y="255.5" width="4" height="79" fill="#fff" stroke="#000"/>
<rect x="705" y="207" width="1" height="58" fill="#000"/>
<rect x="703.5" y="212.5" width="4" height="44" fill="#fff" stroke="#000"/>
<rect x="713" y="204" width="1" height="59" fill="#000"/>
<rect x="711" y="212" width="5" height="25" fill="#000"/>
<rect x="721" y="220" width="1" height="26" fill="#000"/>
<rect x="719.5" y="228.5" width="4" height="8" fill="#fff" stroke="#000"/>
<rect x="729" y="206" width="1" height="25" fill="#000"/>
<rect x="727.5" y="227.5" width="4" height="3" fill="#fff" stroke="#000"/>
<rect x="737" y="170" width="1" height="65" fill="#000"/>
<rect x="735.5" y="175.5" width="4" height="52" fill="#fff" stroke="#000"/>
<rect x="745" y="170" width="1" height="41" fill="#000"/>
<rect x="743" y="174" width="5" height="3" fill="#000"/>
<rect x="753" y="173" width="1" height="97" fill="#000"/>
<rect x="751" y="176" width="5" height="84" fill="#000"/>
<rect x="761" y="232" width="1" height="38" fill="#000"/>
<rect x="759.5" y="252.5" width="4" height="6" fill="#fff" stroke="#000"/>
<rect x="769" y="224" width="1" height="26" fill="#000"/>
<rect x="767" y="235" width="5" height="11" fill="#000"/>
<rect x="777" y="185" width="1" height="67" fill="#000"/>
<rect x="775.5" y="195.5" width="4" height="50" fill="#fff" stroke="#000"/>
<rect x="785" y="195" width="1" height="30" fill="#000"/>
<rect x="783" y="195" width="5" height="19" fill="#000"/>
<rect x="793" y="197" width="1" height="33" fill="#000"/>
<rect x="791.5" y="199.5" width="4" height="15" fill="#fff" stroke="#000"/>
<rect x="801" y="196" width="1" height="61" fill="#000"/>
<rect x="799" y="199" width="5" height="52" fill="#000"/>
<rect x="809" y="237" width="1" height="68" fill="#000"/>
<rect x="807" y="250" width="5" height="43" fill="#000"/>
<rect x="817" y="266" width="1" height="28" fill="#000"/>
<rect x="815.5" y="269.5" width="4" height="24" fill="#fff" stroke="#000"/>
<rect x="825" y="257" width="1" height="40" fill="#000"/>
<rect x="823" y="266" width="5" height="29" fill="#000"/>
<rect x="833" y="279" width="1" height="33" fill="#000"/>
<rect x="831" y="294" width="5" height="8" fill="#000"/>
<rect x="841" y="283" width="1" height="79" fill="#000"/>
<rect x="839" y="301" width="5" height="58" fill="#000"/>
<rect x="849" y="310" width="1" height="59" fill="#000"/>
<rect x="847.5" y="328.5" width="4" height="30" fill="#fff" stroke="#000"/>
<rect x="857" y="324" width="1" height="33" fill="#000"/>
<rect x="855" y="327" width="5" height="19" fill="#000"/>
<rect x="865" y="330" width="1" height="29" fill="#000"/>
<rect x="863.5" y="339.5" width="4" height="7" fill="#fff" stroke="#000"/>
<rect x="873" y="326" width="1" height="30" fill="#000"/>
<rect x="871.5" y="328.5" width="4" height="10" fill="#fff" stroke="#000"/>
<rect x="881" y="326" width="1" height="38" fill="#000"/>
<rect x="879" y="327" width="5" height="32" fill="#000"/>
<rect x="889" y="357" width="1" height="56" fill="#000"/>
<rect x="887" y="357" width="5" height="52" fill="#000"/>
<rect x="897" y="391" width="1" height="51" fill="#000"/>
<rect x="895.5" y="403.5" width="4" height="6" fill="#fff" stroke="#000"/>
<rect x="905" y="394" width="1" height="24" fill="#000"/>
<rect x="903" y="402" width="5" height="1" fill="#000"/>
<rect x="913" y="386" width="1" height="22" fill="#000"/>
<rect x="911" y="402" width="5" height="1" fill="#000"/>
<rect x="921" y="385" width="1" height="27" fill="#000"/>
<rect x="919.5" y="394.5" width="4" height="8" fill="#fff" stroke="#000"/>
<rect x="929" y="361" width="1" height="34" fill="#000"/>
<rect x="927.5" y="366.5" width="4" height="28" fill="#fff" stroke="#000"/>
<rect x="937" y="318" width="1" height="49" fill="#000"/>
<rect x="935.5" y="320.5" width="4" height="46" fill="#fff" stroke="#000"/>
<rect x="945" y="295" width="1" height="44" fill="#000"/>
<rect x="943.5" y="310.5" width="4" height="11" fill="#fff" stroke="#000"/>
<rect x="953" y="302" width="1" height="25" fill="#000"/>
<rect x="951.5" y="302.5" width="4" height="8" fill="#fff" stroke="#000"/>
<rect x="961" y="293" width="1" height="20" fill="#000"/>
<rect x="959.5" y="299.5" width="4" height="3" fill="#fff" stroke="#000"/>
<rect x="969" y="282" width="1" height="43" fill="#000"/>
<rect x="967" y="296" width="5" height="12" fill="#000"/>
<rect x="977" y="269" width="1" height="46" fill="#000"/>
<rect x="975.5" y="273.5" width="4" height="35" fill="#fff" stroke="#000"/>
<rect x="985" y="264" width="1" height="55" fill="#000"/>
<rect x="983" y="272" width="5" height="43" fill="#000"/>
<rect x="993" y="214" width="1" height="119" fill="#000"/>
<rect x="991.5" y="243.5" width="4" height="73" fill="#fff" stroke="#000"/>
<rect x="1001" y="239" width="1" height="24" fill="#000"/>
<rect x="999" y="244" width="5" height="1" fill="#000"/>
<rect x="1009" y="234" width="1" height="19" fill="#000"/>
<rect x="1007" y="243" width="5" height="10" fill="#000"/>
<rect x="1017" y="229" width="1" height="38" fill="#000"/>
<rect x="1015.5" y="237.5" width="4" height="13" fill="#fff" stroke="#000"/>
<rect x="1025" y="224" width="1" height="33" fill="#000"/>
<rect x="1023" y="238" width="5" height="8" fill="#000"/>
<rect x="1033" y="246" width="1" height="61" fill="#000"/>
<rect x="1031" y="246" width="5" height="56" fill="#000"/>
<rect x="1041" y="266" width="1" height="41" fill="#000"/>
<rect x="1039.5" y="281.5" width="4" height="19" fill="#fff" stroke="#000"/>
<rect x="1049" y="259" width="1" height="33" fill="#000"/>
<rect x="1047.5" y="278.5" width="4" height="3" fill="#fff" stroke="#000"/>
<rect x="1057" y="272" width="1" height="11" fill="#000"/>
<rect x="1055" y="279" width="5" height="1" fill="#000"/>
<rect x="1065" y="217" width="1" height="64" fill="#000"/>
<rect x="1063.5" y="229.5" width="4" height="49" fill="#fff" stroke="#000"/>
<rect x="1073" y="194" width="1" height="36" fill="#000"/>
<rect x="1071.5" y="205.5" width="4" height="24" fill="#fff" stroke="#000"/>
<rect x="1081" y="204" width="1" height="46" fill="#000"/>
<rect x="1079" y="204" width="5" height="32" fill="#000"/>
<rect x="1089" y="183" width="1" height="55" fill="#000"/>
<rect x="1087.5" y="185.5" width="4" height="51" fill="#fff" stroke="#000"/>
<rect x="1097" y="179" width="1" height="29" fill="#000"/>
<rect x="1095" y="185" width="5" height="10" fill="#000"/>
<rect x="1105" y="169" width="1" height="35" fill="#000"/>
<rect x="1103" y="195" width="5" height="1" fill="#000"/>
<rect x="1113" y="185" width="1" height="49" fill="#000"/>
<rect x="1111" y="194" width="5" height="26" fill="#000"/>
<rect x="1121" y="195" width="1" height="31" fill="#000"/>
<rect x="1119" y="219" width="5" height="1" fill="#000"/>
<rect x="1129" y="206" width="1" height="27" fill="#000"/>
<rect x="1127.5" y="213.5" width="4" height="7" fill="#fff" stroke="#000"/>
<rect x="1137" y="199" width="1" height="25" fill="#000"/>
<rect x="1135.5" y="209.5" width="4" height="4" fill="#fff" stroke="#000"/>
<rect x="1145" y="200" width="1" height="25" fill="#000"/>
<rect x="1143.5" y="206.5" width="4" height="3" fill="#fff" stroke="#000"/>
<rect x="1153" y="183" width="1" height="33" fill="#000"/>
<rect x="1151.5" y="184.5" width="4" height="22" fill="#fff" stroke="#000"/>
<rect x="1161" y="178" width="1" height="28" fill="#000"/>
<rect x="1159" y="184" width="5" height="12" fill="#000"/>
<rect x="1169" y="165" width="1" height="33" fill="#000"/>
<rect x="1167.5" y="185.5" width="4" height="9" fill="#fff" stroke="#000"/>
<rect x="1177" y="134" width="1" height="62" fill="#000"/>
<rect x="1175.5" y="145.5" width="4" height="41" fill="#fff" stroke="#000"/>
<rect x="1185" y="52" width="1" height="107" fill="#000"/>
<rect x="1183.5" y="122.5" width="4" height="23" fill="#fff" stroke="#000"/>
<rect x="1193" y="94" width="1" height="68" fill="#000"/>
<rect x="1191" y="121" width="5" height="9" fill="#000"/>
<rect x="1201" y="91" width="1" height="40" fill="#000"/>
<rect x="1199.5" y="103.5" width="4" height="27" fill="#fff" stroke="#000"/>
<rect x="1209" y="81" width="1" height="40" fill="#000"/>
<rect x="1207.5" y="89.5" width="4" height="15" fill="#fff" stroke="#000"/>
<rect x="1217" y="83" width="1" height="33" fill="#000"/>
<rect x="1215" y="89" width="5" height="22" fill="#000"/>
<rect x="1225" y="95" width="1" height="40" fill="#000"/>
<rect x="1223" y="110" width="5" height="3" fill="#000"/>
<rect x="1233" y="108" width="1" height="46" fill="#000"/>
<rect x="1231" y="112" width="5" height="23" fill="#000"/>
<rect x="1241" y="114" width="1" height="175" fill="#000"/>
<rect x="1239" y="134" width="5" height="114" fill="#000"/>
<rect x="1249" y="185" width="1" height="32" fill="#000"/>
<rect x="1247.5" y="186.5" width="4" height="24" fill="#fff" stroke="#000"/>
<rect x="1257" y="185" width="1" height="56" fill="#000"/>
<rect x="1255" y="187" width="5" height="15" fill="#000"/>
<rect x="1265" y="193" width="1" height="46" fill="#000"/>
<rect x="1263" y="201" width="5" height="18" fill="#000"/>
<rect x="1273" y="218" width="1" height="72" fill="#000"/>
<rect x="1271" y="218" width="5" height="42" fill="#000"/>
<rect x="1281" y="175" width="1" height="96" fill="#000"/>
<rect x="1279.5" y="187.5" width="4" height="73" fill="#fff" stroke="#000"/>
<rect x="1289" y="158" width="1" height="68" fill="#000"/>
<rect x="1287.5" y="174.5" width="4" height="13" fill="#fff" stroke="#000"/>
<rect x="1297" y="173" width="1" height="28" fill="#000"/>
<rect x="1295" y="173" width="5" height="23" fill="#000"/>
<rect x="1305" y="192" width="1" height="45" fill="#000"/>
<rect x="1303" y="195" width="5" height="21" fill="#000"/>
<rect x="1313" y="214" width="1" height="32" fill="#000"/>
<rect x="1311" y="215" width="5" height="15" fill="#000"/>
<rect x="1321" y="166" width="1" height="68" fill="#000"/>
<rect x="1319.5" y="174.5" width="4" height="55" fill="#fff" stroke="#000"/>
<rect x="1329" y="135" width="1" height="56" fill="#000"/>
<rect x="1327.5" y="160.5" width="4" height="14" fill="#fff" stroke="#000"/>
<rect x="1337" y="158" width="1" height="30" fill="#000"/>
<rect x="1335" y="159" width="5" height="20" fill="#000"/>
<rect x="1345" y="174" width="1" height="16" fill="#000"/>
<rect x="1343" y="178" width="5" height="1" fill="#000"/>
<rect x="1353" y="159" width="1" height="22" fill="#000"/>
<rect x="1351.5" y="168.5" width="4" height="8" fill="#fff" stroke="#000"/>
<rect x="1361" y="165" width="1" height="15" fill="#000"/>
<rect x="1359" y="167" width="5" height="12" fill="#000"/>
<rect x="1369" y="150" width="1" height="34" fill="#000"/>
<rect x="1367.5" y="171.5" width="4" height="6" fill="#fff" stroke="#000"/>
<rect x="1377" y="151" width="1" height="73" fill="#000"/>
<rect x="1375" y="170" width="5" height="45" fill="#000"/>
<rect x="1385" y="191" width="1" height="37" fill="#000"/>
<rect x="1383" y="215" width="5" height="6" fill="#000"/>
<rect x="1393" y="205" width="1" height="27" fill="#000"/>
<rect x="1391" y="221" width="5" height="1" fill="#000"/>
<rect x="1401" y="195" width="1" height="76" fill="#000"/>
<rect x="1399" y="221" width="5" height="39" fill="#000"/>
<rect x="1409" y="219" width="1" height="46" fill="#000"/>
<rect x="1407.5" y="238.5" width="4" height="23" fill="#fff" stroke="#000"/>
<rect x="1417" y="228" width="1" height="73" fill="#000"/>
<rect x="1415" y="238" width="5" height="43" fill="#000"/>
<rect x="1425" y="264" width="1" height="55" fill="#000"/>
<rect x="1423" y="279" width="5" height="19" fill="#000"/>
<rect x="1433" y="277" width="1" height="37" fill="#000"/>
<rect x="1431" y="297" width="5" height="17" fill="#000"/>
<rect x="1441" y="294" width="1" height="20" fill="#000"/>
<rect x="1439.5" y="303.5" width="4" height="10" fill="#fff" stroke="#000"/>
<rect x="1397" y="285" width="108" height="6" fill="#00ff00"/>
<rect x="1114.5" y="44.5" width="61" height="18" fill="#fff" stroke="#f00"/>
<text x="1117.2" y="60" font-size="17" fill="#f00" textLength="56.9" lengthAdjust="spacingAndGlyphs">116.327</text>
<rect x="1176" y="53" width="9" height="1" fill="#f00"/>
<rect x="674.5" y="160.5" width="61" height="18" fill="#fff" stroke="#f00"/>
<text x="677.2" y="176" font-size="17" fill="#f00" textLength="56.9" lengthAdjust="spacingAndGlyphs">115.675</text>
<rect x="736" y="169" width="9" height="1" fill="#f00"/><rect x="745" y="169" width="1" height="2" fill="#f00"/>
<rect x="826.5" y="432.5" width="61" height="18" fill="#fff" stroke="#f00"/>
<text x="828.9" y="448" font-size="17" fill="#f00" textLength="57.4" lengthAdjust="spacingAndGlyphs">114.148</text>
<rect x="888" y="441" width="9" height="1" fill="#f00"/>
<rect x="1290" y="288" width="7" height="1" fill="#f00"/><rect x="1297.5" y="286.5" width="2" height="3" fill="#fff" stroke="#f00"/>
<rect x="1300.5" y="276.5" width="73" height="24" fill="#fff" stroke="#f00"/>
<text x="1302.7" y="297" font-size="22" fill="#f00" textLength="69.4" lengthAdjust="spacingAndGlyphs">115.008</text>
<rect x="1354.5" y="309.5" width="61" height="18" fill="#fff" stroke="#f00"/>
<text x="1357.2" y="325" font-size="17" fill="#f00" textLength="56.9" lengthAdjust="spacingAndGlyphs">114.840</text>
<rect x="1416.5" y="316.5" width="2" height="3" fill="#fff" stroke="#f00"/><rect x="1419" y="318" width="6" height="1" fill="#f00"/>
</g>
<line x1="1346.2" y1="154.2" x2="1451.9" y2="314.8" stroke="#f00" stroke-width="3.1" shape-rendering="auto"/>
<polygon points="1456.3,321.5 1446.8,315.8 1454.8,310.5" fill="#f00" shape-rendering="auto"/>
<line x1="1370.8" y1="652.2" x2="1442.6" y2="682.7" stroke="#f00" stroke-width="3.1" shape-rendering="auto"/>
<polygon points="1450,685.8 1438.9,686.3 1442.6,677.5" fill="#f00" shape-rendering="auto"/>
<line x1="1362" y1="831" x2="1439.9" y2="866.7" stroke="#f00" stroke-width="3.1" shape-rendering="auto"/>
<polygon points="1447.2,870 1436.1,870.2 1440.1,861.5" fill="#f00" shape-rendering="auto"/>
<rect x="1654" y="226" width="41" height="11" fill="#f00"/>
<text x="1658.4" y="235" font-size="10" fill="#fff" textLength="32.3" lengthAdjust="spacingAndGlyphs">115.321</text>
<rect x="1654" y="253" width="41" height="11" fill="#f00"/>
<text x="1658.4" y="262" font-size="10" fill="#fff" textLength="32.3" lengthAdjust="spacingAndGlyphs">115.170</text>
<rect x="1654" y="282" width="41" height="11" fill="#32cd32"/>
<text x="1658.4" y="291" font-size="10" fill="#fff" textLength="32.3" lengthAdjust="spacingAndGlyphs">115.008</text>
<rect x="1654" y="298" width="41" height="11" fill="#000"/>
<text x="1658.4" y="307" font-size="10" fill="#fff" textLength="32.3" lengthAdjust="spacingAndGlyphs">114.921</text>
<rect x="1654" y="326" width="41" height="11" fill="#00f"/>
<text x="1658.4" y="335" font-size="10" fill="#fff" textLength="32.3" lengthAdjust="spacingAndGlyphs">114.761</text>
<rect x="1654" y="350" width="41" height="11" fill="#00f"/>
<text x="1658.4" y="359" font-size="10" fill="#fff" textLength="32.3" lengthAdjust="spacingAndGlyphs">114.627</text>
<polygon points="-3,35 0,32 3,35" fill="#000"/>
<text x="8.5" y="36" font-size="10" fill="#000" textLength="200" lengthAdjust="spacingAndGlyphs">USDJPY-,H4&#160;&#160;114.867 114.972 114.867 114.921</text>
<text x="-2" y="592" font-size="10" fill="#000" textLength="132.3" lengthAdjust="spacingAndGlyphs">MACD(12,26,9) -0.1518 -0.0621</text>
<text x="-2" y="764" font-size="10" fill="#000" textLength="66.8" lengthAdjust="spacingAndGlyphs">RSI(14) 36.1180</text>
<polygon points="1447,25 1456,25 1451.5,29.5" fill="#a8a8a8" shape-rendering="auto"/>
</svg>
<svg width="1699" height="22" style="position:absolute;left:0;top:0" font-family="Liberation Sans,sans-serif">
<circle cx="0" cy="9" r="3" fill="#cfe3f7" stroke="#3d7fd0" stroke-width="1.2"/><line x1="2" y1="12" x2="5.5" y2="16.5" stroke="#c8a030" stroke-width="2.2"/>
<rect x="13" y="0" width="1" height="18" fill="#a0a0a0"/>
<path d="M23.5,1.5 h8 l3,3 v9.5 h-11 z" fill="#fff" stroke="#7a7a7a"/><rect x="25" y="2" width="3" height="2" fill="#909090"/><rect x="25" y="6" width="6" height="1" fill="#909090"/><rect x="25" y="8" width="5" height="1" fill="#909090"/><rect x="25" y="10" width="3" height="1" fill="#909090"/>
<path d="M31.2,6.7 h3.6 v3.9 h3.9 v3.6 h-3.9 v3.9 h-3.6 v-3.9 h-3.9 v-3.6 h3.9 z" fill="#20d820" stroke="#0a8a0a" stroke-width="0.8"/>
<path d="M30.5,18.5 l1,1 l1,-1" stroke="#000" fill="none" stroke-width="0.8"/>
<text x="42.5" y="11" font-size="12.6" fill="#000" textLength="64.2" lengthAdjust="spacingAndGlyphs">New Order</text>
<path d="M119.5,9.5 l5.5,-8 l9.5,7 l-5.5,7.5 z" fill="#e9b92c" stroke="#a87412" stroke-width="0.9"/><path d="M120.5,11 l8,5.5 l5.5,-7" stroke="#c88a20" fill="none" stroke-width="1.4"/><path d="M121.5,9 l4.5,-6" stroke="#fbe58a" fill="none" stroke-width="1"/>
<rect x="149" y="0.5" width="10" height="10" fill="#2a9ae8" stroke="#1a6ac0" stroke-width="0.8"/><rect x="152" y="3" width="6" height="3" fill="#bfe6ff"/>
<path d="M148,15.5 q-2,-3 1.5,-4 q1,-3 5,-2.5 q3,-2 6,1 q3,0 2.5,3 q0,2.5 -2.5,2.5 z" fill="#f4f6fa" stroke="#5a7ab0" stroke-width="0.9"/>
<circle cx="182.5" cy="7.5" r="7" fill="none" stroke="#9ab8e8" stroke-width="1"/><circle cx="182.5" cy="7.5" r="4.5" fill="none" stroke="#4a80d8" stroke-width="1"/><circle cx="182.5" cy="7.5" r="1.8" fill="#2050c0"/><path d="M183,8 v7.5 q4,0 6.5,-3.5" stroke="#20a030" stroke-width="1.3" fill="none"/>
<path d="M203,8 q0,-6 7,-6 q7,0 7,6 q-3,3 -7,3 q-4,0 -7,-3z" fill="#68b0e8" stroke="#3a80c0" stroke-width="0.8"/><path d="M203,9 l6,7 l5,-3 l2,-4 q-6,3 -13,0z" fill="#f0d040" stroke="#c0a020" stroke-width="0.7"/><circle cx="214.5" cy="12" r="3.6" fill="#e02020"/><rect x="213" y="10.5" width="3" height="3" fill="#fff"/>
<text x="222.8" y="11" font-size="12.6" fill="#000" textLength="71.8" lengthAdjust="spacingAndGlyphs">AutoTrading</text>
<rect x="302" y="0" width="1" height="18" fill="#a0a0a0"/>
<rect x="306" y="1" width="3" height="1" fill="#b4b4b4"/>
<rect x="306" y="3" width="3" height="1" fill="#b4b4b4"/>
<rect x="306" y="5" width="3" height="1" fill="#b4b4b4"/>
<rect x="306" y="7" width="3" height="1" fill="#b4b4b4"/>
<rect x="306" y="9" width="3" height="1" fill="#b4b4b4"/>
<rect x="306" y="11" width="3" height="1" fill="#b4b4b4"/>
<rect x="306" y="13" width="3" height="1" fill="#b4b4b4"/>
<rect x="306" y="15" width="3" height="1" fill="#b4b4b4"/>
<rect x="306" y="17" width="3" height="1" fill="#b4b4b4"/>
<g stroke="#555" stroke-width="1" fill="none"><path d="M320.5,1.5 v14 M318,14.5 h14 M318.5,3.5 l2,-2 l2,2 M330,12.5 l2,2 l-2,2"/></g><path d="M325.5,5 v6 M325.5,5 h2.5 M323.5,10.5 h2" stroke="#22a022" stroke-width="1.2" fill="none"/>
<rect x="341" y="0" width="24" height="18" fill="#f6f6f6"/>
<g stroke="#555" stroke-width="1" fill="none"><path d="M348.5,1.5 v14 M346,14.5 h14 M346.5,3.5 l2,-2 l2,2 M358,12.5 l2,2 l-2,2"/></g><rect x="351.5" y="3.5" width="3.5" height="6.5" fill="#22c022" stroke="#108010" stroke-width="0.8"/><path d="M353.3,1 v2.5 M353.3,10 v2" stroke="#108010"/>
<g stroke="#555" stroke-width="1" fill="none"><path d="M376.5,1.5 v14 M374,14.5 h14 M374.5,3.5 l2,-2 l2,2 M386,12.5 l2,2 l-2,2"/></g><path d="M376,10 q4,-7 7,-4 l3,3" stroke="#22a022" stroke-width="1.2" fill="none"/>
<rect x="397" y="0" width="1" height="18" fill="#a0a0a0"/>
<line x1="413.5" y1="9" x2="419.5" y2="15" stroke="#c8a828" stroke-width="2.6"/><circle cx="410.5" cy="5.5" r="4.5" fill="#dcecfa" stroke="#3a7ad0" stroke-width="1.3"/>
<rect x="408.0" y="4.7" width="5" height="1.6" fill="#3a7ad0"/>
<rect x="409.7" y="3" width="1.6" height="5" fill="#3a7ad0"/>
<line x1="441.5" y1="9" x2="447.5" y2="15" stroke="#c8a828" stroke-width="2.6"/><circle cx="438.5" cy="5.5" r="4.5" fill="#dcecfa" stroke="#3a7ad0" stroke-width="1.3"/>
<rect x="436.0" y="4.7" width="5" height="1.6" fill="#3a7ad0"/>
<rect x="462" y="0" width="8" height="8" fill="#3a9a2a"/><rect x="470" y="0" width="8" height="8" fill="#2a60c8"/><rect x="462" y="8" width="8" height="8" fill="#2a60c8"/><rect x="470" y="8" width="8" height="8" fill="#3a9a2a"/>
<rect x="463" y="3" width="6" height="3" fill="#fff" opacity="0.85"/>
<rect x="471" y="3" width="6" height="3" fill="#fff" opacity="0.85"/>
<rect x="463" y="11" width="6" height="3" fill="#fff" opacity="0.85"/>
<rect x="471" y="11" width="6" height="3" fill="#fff" opacity="0.85"/>
<rect x="487" y="0" width="1" height="18" fill="#a0a0a0"/>
<rect x="492" y="0" width="1" height="18" fill="#a0a0a0"/>
<rect x="493" y="0" width="24" height="18" fill="#f6f6f6"/>
<g stroke="#555" stroke-width="1" fill="none"><path d="M500.5,2 v13 M498,13.5 h13 M498.5,3.5 l2,-2 l2,2 M509,11.5 l2,2 l-2,2"/></g><polygon points="505,4 505,10 509,7" fill="#22b022"/>
<rect x="520" y="0" width="1" height="18" fill="#a0a0a0"/>
<rect x="521" y="0" width="24" height="18" fill="#f6f6f6"/>
<g stroke="#555" stroke-width="1" fill="none"><path d="M528.5,2 v13 M526,13.5 h13 M526.5,3.5 l2,-2 l2,2 M537,11.5 l2,2 l-2,2"/></g><path d="M534.5,2 v10" stroke="#2060c0" stroke-width="1"/><polygon points="535.5,7.5 539.5,5 539.5,10" fill="#e04010"/>
<rect x="549" y="0" width="1" height="18" fill="#a0a0a0"/>
<path d="M559.5,1.5 h7 l2.5,2.5 v8 h-9.5z" fill="#fff" stroke="#777"/><path d="M562,4 h3 M562,6 v5" stroke="#555"/>
<path d="M566,8 h3 v3.5 h3.5 v3 h-3.5 v3.5 h-3 v-3.5 h-3.5 v-3 h3.5z" fill="#22cc22" stroke="#0a8a0a" stroke-width="0.8"/>
<polygon points="581,7 587,7 584,10" fill="#000"/>
<circle cx="605" cy="8" r="7.3" fill="#2a70d0"/><circle cx="605" cy="8" r="5.3" fill="#f4f4f4"/><path d="M605,4.5 v3.5 h2.5" stroke="#333" stroke-width="1" fill="none"/>
<polygon points="620,7 626,7 623,10" fill="#000"/>
<rect x="636.5" y="1.5" width="15" height="13" fill="#fff" stroke="#3a6ac0"/><rect x="637" y="2" width="14" height="2" fill="#3a6ac0"/><path d="M638,8 l3,-1.5 l3,1 l3,-2 l3,0.5" stroke="#c04020" fill="none" stroke-width="0.9"/><path d="M638,12 l3,-1.5 l3,1 l3,-2 l3,0.5" stroke="#20a020" fill="none" stroke-width="0.9"/><rect x="637" y="9.5" width="14" height="0.8" fill="#3a6ac0"/>
<polygon points="659,7 665,7 662,10" fill="#000"/>
<rect x="670" y="0" width="1" height="18" fill="#a0a0a0"/>
<rect x="674" y="1" width="3" height="1" fill="#b4b4b4"/>
<rect x="674" y="3" width="3" height="1" fill="#b4b4b4"/>
<rect x="674" y="5" width="3" height="1" fill="#b4b4b4"/>
<rect x="674" y="7" width="3" height="1" fill="#b4b4b4"/>
<rect x="674" y="9" width="3" height="1" fill="#b4b4b4"/>
<rect x="674" y="11" width="3" height="1" fill="#b4b4b4"/>
<rect x="674" y="13" width="3" height="1" fill="#b4b4b4"/>
<rect x="674" y="15" width="3" height="1" fill="#b4b4b4"/>
<rect x="674" y="17" width="3" height="1" fill="#b4b4b4"/>
<rect x="681" y="0" width="1" height="18" fill="#a0a0a0"/>
<rect x="682" y="0" width="23" height="18" fill="#f6f6f6"/>
<path d="M688.5,1.5 v12 l2.6,-2.6 l2.4,4.6 l1.8,-0.9 l-2.3,-4.5 h3.6z" fill="#444"/>
<path d="M720.5,2 v5 M720.5,10 v5.5 M713,8.5 h5 M723,8.5 h5.5" stroke="#444" stroke-width="1" fill="none"/>
<rect x="737" y="0" width="1" height="18" fill="#a0a0a0"/>
<rect x="754" y="2" width="1" height="13" fill="#444"/>
<rect x="777" y="8" width="12" height="1" fill="#444"/>
<line x1="805" y1="14.5" x2="817" y2="3" stroke="#444" stroke-width="1"/>
<path d="M831,9 l12,-8 M833,13 l12,-8 M834,6 l2,6 M837,4 l2,6 M840,2 l2,6" stroke="#444" stroke-width="0.9" fill="none"/><text x="842" y="16.5" font-size="7" font-weight="bold" fill="#444">E</text>
<path d="M860.5,2 h12 M860.5,5 h12 M860.5,8 h12 M860.5,12 h10" stroke="#444" stroke-dasharray="1 1" fill="none"/><text x="869" y="16.5" font-size="7" font-weight="bold" fill="#444">F</text>
<text x="890.3" y="12.7" font-size="11.5" font-weight="bold" fill="#555">A</text>
<rect x="917" y="2" width="11.5" height="12.5" fill="none" stroke="#555" stroke-dasharray="1 1"/><text x="919" y="12.5" font-size="11" font-weight="bold" fill="#555">T</text>
<path d="M944,5 l3,-3 l3,3 l-3,3z M952,11 l3,-3 l3,3 l-3,3z" fill="#444"/><path d="M946,9 l2,2 l3,-4" stroke="#444" fill="none" stroke-width="1"/>
<polygon points="964,7 970,7 967,10" fill="#000"/>
<rect x="976" y="0" width="1" height="18" fill="#a0a0a0"/>
<rect x="980" y="1" width="3" height="1" fill="#b4b4b4"/>
<rect x="980" y="3" width="3" height="1" fill="#b4b4b4"/>
<rect x="980" y="5" width="3" height="1" fill="#b4b4b4"/>
<rect x="980" y="7" width="3" height="1" fill="#b4b4b4"/>
<rect x="980" y="9" width="3" height="1" fill="#b4b4b4"/>
<rect x="980" y="11" width="3" height="1" fill="#b4b4b4"/>
<rect x="980" y="13" width="3" height="1" fill="#b4b4b4"/>
<rect x="980" y="15" width="3" height="1" fill="#b4b4b4"/>
<rect x="980" y="17" width="3" height="1" fill="#b4b4b4"/>
<text x="991.2" y="12" font-size="9.6" fill="#333" textLength="13" lengthAdjust="spacingAndGlyphs">M1</text>
<text x="1019.5" y="12" font-size="9.6" fill="#333" textLength="13" lengthAdjust="spacingAndGlyphs">M5</text>
<text x="1045.4" y="12" font-size="9.6" fill="#333" textLength="17.6" lengthAdjust="spacingAndGlyphs">M15</text>
<text x="1073.5" y="12" font-size="9.6" fill="#333" textLength="17.7" lengthAdjust="spacingAndGlyphs">M30</text>
<text x="1104.5" y="12" font-size="9.6" fill="#333" textLength="11.8" lengthAdjust="spacingAndGlyphs">H1</text>
<rect x="1126" y="0" width="1" height="18" fill="#a0a0a0"/><rect x="1127" y="0" width="24" height="18" fill="#f6f6f6"/>
<text x="1131.6" y="12" font-size="9.6" fill="#333" textLength="12.2" lengthAdjust="spacingAndGlyphs">H4</text>
<text x="1160.6" y="12" font-size="9.6" fill="#333" textLength="11.8" lengthAdjust="spacingAndGlyphs">D1</text>
<text x="1187.7" y="12" font-size="9.6" fill="#333" textLength="14.7" lengthAdjust="spacingAndGlyphs">W1</text>
<text x="1214.8" y="12" font-size="9.6" fill="#333" textLength="14.7" lengthAdjust="spacingAndGlyphs">MN</text>
<rect x="1237" y="0" width="1" height="18" fill="#a0a0a0"/>
<circle cx="1654.6" cy="5.6" r="3.6" fill="#eef2ff" stroke="#2060d0" stroke-width="1.4"/><line x1="1651.8" y1="8.6" x2="1647.2" y2="13" stroke="#2060d0" stroke-width="2.2"/>
<path d="M1672,9.5 q0,-4.5 5.5,-4.5 q5.5,0 5.5,4.5 q0,4 -5.5,4 l-3,3 l0.5,-3.2 q-3,-1 -3,-3.8z" fill="#e4e6ee" stroke="#a0a0a0" stroke-width="0.8"/>
<circle cx="1685.4" cy="5.8" r="8" fill="#dd3010"/><text x="1682.3" y="10" font-size="11" font-weight="bold" fill="#fff" font-family="Liberation Serif,serif">1</text>
</svg>
<svg width="220" height="104" style="position:absolute;left:0;top:0" font-family="Liberation Sans,sans-serif">
<defs><linearGradient id="gb" x1="0" y1="0" x2="0" y2="1"><stop offset="0" stop-color="#fb5555"/><stop offset="1" stop-color="#e03030"/></linearGradient><linearGradient id="gp" x1="0" y1="0" x2="0" y2="1"><stop offset="0" stop-color="#de2e2e"/><stop offset="1" stop-color="#b00202"/></linearGradient><linearGradient id="gs" x1="0" y1="0" x2="0" y2="1"><stop offset="0" stop-color="#f3f3f3"/><stop offset="0.4" stop-color="#ececec"/><stop offset="0.42" stop-color="#dcdcdc"/><stop offset="1" stop-color="#d2d2d2"/></linearGradient></defs>
<g shape-rendering="crispEdges">
<rect x="0" y="68" width="105" height="33" fill="#b40000"/><rect x="0" y="69" width="104" height="31" fill="url(#gp)"/>
<rect x="0" y="44" width="48" height="25" fill="#b40000"/><rect x="0" y="45" width="47" height="22" fill="url(#gb)"/>
<rect x="0" y="67" width="44" height="1" fill="#8c0000"/><rect x="0" y="68" width="44" height="1" fill="#f26464"/><rect x="44" y="67" width="3" height="2" fill="#e03030"/>
<rect x="107" y="68" width="108" height="33" fill="#b40000"/><rect x="108" y="69" width="106" height="31" fill="url(#gp)"/>
<rect x="163" y="44" width="52" height="25" fill="#b40000"/><rect x="164" y="45" width="50" height="23" fill="url(#gb)"/>
<rect x="167" y="67" width="44" height="1" fill="#8c0000"/><rect x="167" y="68" width="44" height="1" fill="#f26464"/>
<rect x="48" y="44" width="115" height="24" fill="#fff"/>
<rect x="105" y="68" width="2" height="33" fill="#fff"/>
<rect x="50" y="44" width="111" height="22" fill="#a7abb0"/><rect x="51" y="45" width="109" height="20" fill="#fff"/>
<rect x="51" y="45" width="20" height="20" fill="url(#gs)"/><rect x="71" y="45" width="1" height="20" fill="#a7abb0"/>
<rect x="139" y="45" width="1" height="20" fill="#a7abb0"/><rect x="140" y="45" width="20" height="20" fill="url(#gs)"/>
</g>
<polygon points="58,53 63,53 60.5,56" fill="#5068d0"/><polygon points="147,56 152,56 149.5,53" fill="#5068d0"/>
<text x="8" y="60" font-size="12.4" fill="#fff"  textLength="25.8" lengthAdjust="spacingAndGlyphs">SELL</text>
<text x="176.8" y="60" font-size="12.4" fill="#fff"  textLength="23" lengthAdjust="spacingAndGlyphs">BUY</text>
<text x="112.6" y="59" font-size="12" fill="#000"  textLength="23" lengthAdjust="spacingAndGlyphs">1.00</text>
<text x="19.4" y="96" font-size="12.5" fill="#fff" font-weight="bold" textLength="20.1" lengthAdjust="spacingAndGlyphs">114</text>
<text x="44" y="96" font-size="34.5" fill="#fff"  textLength="33.3" lengthAdjust="spacingAndGlyphs">92</text>
<text x="83.5" y="80" font-size="12.5" fill="#fff" font-weight="bold" textLength="6.5" lengthAdjust="spacingAndGlyphs">1</text>
<text x="129.5" y="96" font-size="12.5" fill="#fff" font-weight="bold" textLength="20.1" lengthAdjust="spacingAndGlyphs">114</text>
<text x="155" y="96" font-size="34.5" fill="#fff"  textLength="33.3" lengthAdjust="spacingAndGlyphs">94</text>
<text x="194" y="80" font-size="12.5" fill="#fff" font-weight="bold" textLength="6.5" lengthAdjust="spacingAndGlyphs">1</text>
</svg>
</body></html>
